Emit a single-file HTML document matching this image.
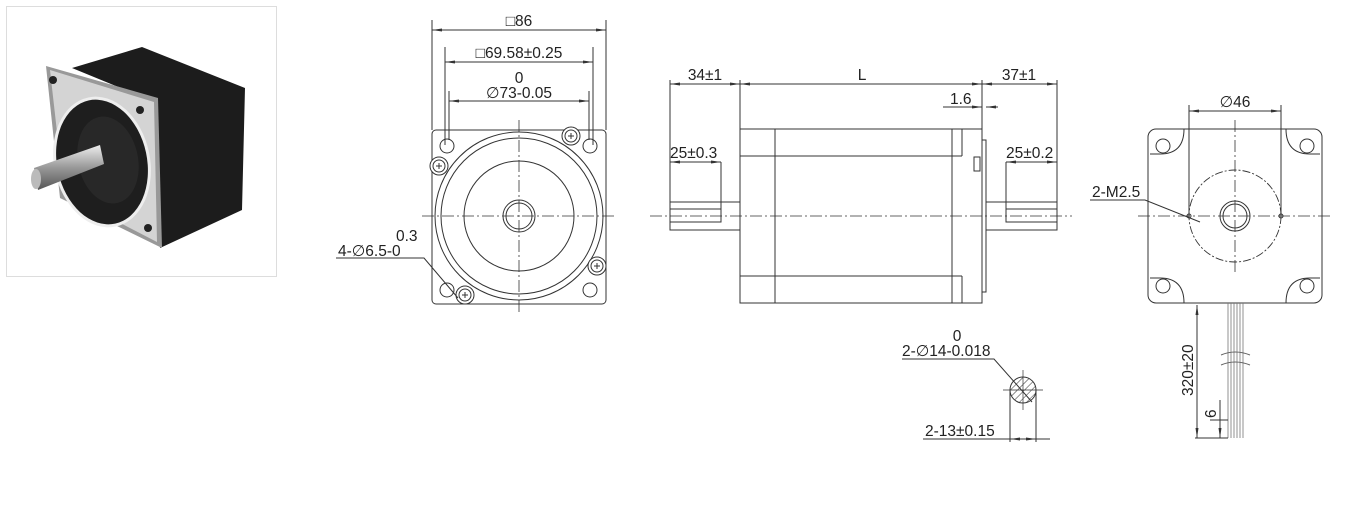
<!DOCTYPE html>
<html><head><meta charset="utf-8"><style>
html,body{margin:0;padding:0;background:#fff;width:1360px;height:508px;overflow:hidden}
svg{display:block}
text{font-family:"Liberation Sans",sans-serif;fill:#222;font-size:15.5px}
</style></head><body>
<svg width="1360" height="508" viewBox="0 0 1360 508" xmlns="http://www.w3.org/2000/svg">
<defs>
<marker id="a" viewBox="0 0 10 6" refX="10" refY="3" markerWidth="10" markerHeight="6" orient="auto-start-reverse"><path d="M0,1.5 L10,3 L0,4.5" fill="#333"/></marker>
<pattern id="h" width="5" height="5" patternUnits="userSpaceOnUse" patternTransform="rotate(45)"><line x1="0" y1="0" x2="0" y2="5" stroke="#333" stroke-width="1"/></pattern>
<linearGradient id="sh" x1="0" y1="0" x2="0" y2="1"><stop offset="0" stop-color="#eee"/><stop offset=".5" stop-color="#999"/><stop offset="1" stop-color="#555"/></linearGradient>
<g id="scr"><circle r="9" fill="#fff"/><circle r="6"/><line x1="-3" y1="0" x2="3" y2="0"/><line x1="0" y1="-3" x2="0" y2="3"/></g>
</defs>
<!-- photo -->
<rect x="6.5" y="6.5" width="270" height="270" fill="#fff" stroke="#ddd"/>
<polygon points="72,68 142,47 245,88 242,210 160,248 150,100" fill="#1c1c1c"/>
<polygon points="46,66 158,98 162,248 60,198" fill="#999"/>
<polygon points="50,70 154,102 157,242 64,194" fill="#d4d4d4"/>
<ellipse cx="102" cy="162" rx="48" ry="66" transform="rotate(-12 102 162)" fill="#eee"/>
<ellipse cx="102" cy="162" rx="45" ry="63" transform="rotate(-12 102 162)" fill="#1e1e1e"/>
<ellipse cx="108" cy="160" rx="30" ry="44" transform="rotate(-12 108 160)" fill="#282828"/>
<polygon points="34,168 100,145 104,164 38,190" fill="url(#sh)"/>
<ellipse cx="36" cy="179" rx="5" ry="10" fill="#bbb"/>
<circle cx="53" cy="80" r="4" fill="#222"/><circle cx="140" cy="110" r="4" fill="#222"/><circle cx="148" cy="228" r="4" fill="#222"/>
<g stroke="#333" stroke-width="1" fill="none">
<!-- front view -->
<rect x="432" y="130" width="174" height="174" rx="4"/>
<circle cx="519" cy="216" r="84"/><circle cx="519" cy="216" r="78"/><circle cx="519" cy="216" r="55"/>
<circle cx="519" cy="216" r="16"/><circle cx="519" cy="216" r="13"/>
<circle cx="447" cy="146" r="7"/><circle cx="590" cy="146" r="7"/><circle cx="447" cy="290" r="7"/><circle cx="590" cy="290" r="7"/>
<use href="#scr" x="571" y="136"/><use href="#scr" x="439" y="166"/><use href="#scr" x="597" y="266"/><use href="#scr" x="465" y="295"/>
<g stroke-dasharray="12,3,2,3" stroke-width=".8"><line x1="422" y1="216" x2="616" y2="216"/><line x1="519" y1="120" x2="519" y2="312"/></g>
<line x1="432" y1="20" x2="432" y2="130"/><line x1="606" y1="20" x2="606" y2="130"/>
<line x1="432" y1="30" x2="606" y2="30" marker-start="url(#a)" marker-end="url(#a)"/>
<line x1="445" y1="47" x2="445" y2="145"/><line x1="593" y1="47" x2="593" y2="145"/>
<line x1="445" y1="62" x2="593" y2="62" marker-start="url(#a)" marker-end="url(#a)"/>
<line x1="449" y1="91" x2="449" y2="140"/><line x1="589" y1="91" x2="589" y2="140"/>
<line x1="449" y1="101" x2="589" y2="101" marker-start="url(#a)" marker-end="url(#a)"/>
<polyline points="336,258 424,258 458,298"/>
<!-- side view -->
<rect x="740" y="129" width="242" height="174"/>
<line x1="775" y1="129" x2="775" y2="303"/><line x1="952" y1="129" x2="952" y2="303"/><line x1="962" y1="129" x2="962" y2="156"/><line x1="962" y1="276" x2="962" y2="303"/>
<line x1="740" y1="156" x2="962" y2="156"/><line x1="740" y1="276" x2="962" y2="276"/>
<rect x="982" y="140" width="4" height="152"/>
<rect x="974" y="157" width="6" height="14"/>
<rect x="670" y="202" width="70" height="28"/><rect x="670" y="209" width="51" height="13"/>
<rect x="986" y="202" width="71" height="28"/><rect x="1006" y="209" width="51" height="13"/>
<line x1="650" y1="216" x2="1072" y2="216" stroke-dasharray="12,3,2,3" stroke-width=".8"/>
<line x1="670" y1="80" x2="670" y2="202"/><line x1="740" y1="80" x2="740" y2="129"/><line x1="982" y1="80" x2="982" y2="140"/><line x1="1057" y1="80" x2="1057" y2="202"/>
<line x1="670" y1="84" x2="740" y2="84" marker-start="url(#a)" marker-end="url(#a)"/>
<line x1="740" y1="84" x2="982" y2="84" marker-start="url(#a)" marker-end="url(#a)"/>
<line x1="982" y1="84" x2="1057" y2="84" marker-start="url(#a)" marker-end="url(#a)"/>
<line x1="943" y1="107" x2="982" y2="107" marker-end="url(#a)"/><line x1="998" y1="107" x2="986" y2="107" marker-end="url(#a)"/>
<line x1="670" y1="162" x2="721" y2="162" marker-start="url(#a)" marker-end="url(#a)"/><line x1="721" y1="162" x2="721" y2="209"/>
<line x1="1006" y1="162" x2="1057" y2="162" marker-start="url(#a)" marker-end="url(#a)"/><line x1="1006" y1="162" x2="1006" y2="209"/>
<!-- section -->
<circle cx="1023" cy="390" r="13" fill="url(#h)"/>
<line x1="1023" y1="370" x2="1023" y2="410" stroke-width=".7"/><line x1="1003" y1="390" x2="1043" y2="390" stroke-width=".7"/>
<polyline points="902,359 994,359 1032,402"/>
<line x1="1010" y1="390" x2="1010" y2="442"/><line x1="1036" y1="390" x2="1036" y2="442"/>
<line x1="923" y1="439" x2="1010" y2="439"/><line x1="1010" y1="439" x2="1036" y2="439" marker-start="url(#a)" marker-end="url(#a)"/><line x1="1036" y1="439" x2="1050" y2="439"/>
<!-- right view -->
<rect x="1148" y="129" width="174" height="174" rx="8"/>
<path d="M1184,129 Q1184,154 1160,154 H1150 M1286,129 Q1286,154 1310,154 H1320 M1184,303 Q1184,278 1160,278 H1150 M1286,303 Q1286,278 1310,278 H1320"/>
<circle cx="1163" cy="146" r="7"/><circle cx="1307" cy="146" r="7"/><circle cx="1163" cy="286" r="7"/><circle cx="1307" cy="286" r="7"/>
<circle cx="1235" cy="216" r="46" stroke-dasharray="8,2,2,2" stroke-width=".9"/>
<circle cx="1235" cy="216" r="15"/><circle cx="1235" cy="216" r="12"/>
<circle cx="1189" cy="216" r="2"/><circle cx="1281" cy="216" r="2"/>
<g stroke-dasharray="12,3,2,3" stroke-width=".8"><line x1="1138" y1="216" x2="1332" y2="216"/><line x1="1235" y1="120" x2="1235" y2="275"/></g>
<line x1="1189" y1="105" x2="1189" y2="216"/><line x1="1281" y1="105" x2="1281" y2="216"/>
<line x1="1189" y1="111" x2="1281" y2="111" marker-start="url(#a)" marker-end="url(#a)"/>
<polyline points="1090,200 1145,200 1200,222"/>
<g stroke="#777" stroke-width=".8"><line x1="1228" y1="303" x2="1228" y2="438"/><line x1="1231" y1="303" x2="1231" y2="438"/><line x1="1234" y1="303" x2="1234" y2="438"/><line x1="1237" y1="303" x2="1237" y2="438"/><line x1="1240" y1="303" x2="1240" y2="438"/><line x1="1243" y1="303" x2="1243" y2="438"/></g>
<path d="M1221,355 Q1235,349 1250,355 M1221,365 Q1235,359 1250,365" stroke="#666"/>
<line x1="1197" y1="305" x2="1197" y2="438" marker-start="url(#a)" marker-end="url(#a)"/>
<line x1="1195" y1="438" x2="1228" y2="438"/>
<line x1="1210" y1="420" x2="1228" y2="420"/>
<line x1="1220" y1="400" x2="1220" y2="438" marker-end="url(#a)"/>
</g>
<g>
<text x="519" y="26" text-anchor="middle">□86</text>
<text x="519" y="58" text-anchor="middle">□69.58±0.25</text>
<text x="519" y="83" text-anchor="middle">0</text>
<text x="519" y="98" text-anchor="middle">∅73-0.05</text>
<text x="396" y="241">0.3</text>
<text x="338" y="256">4-∅6.5-0</text>
<text x="705" y="80" text-anchor="middle">34±1</text>
<text x="862" y="80" text-anchor="middle">L</text>
<text x="1019" y="80" text-anchor="middle">37±1</text>
<text x="950" y="104">1.6</text>
<text x="670" y="158">25±0.3</text>
<text x="1006" y="158">25±0.2</text>
<text x="957" y="341" text-anchor="middle">0</text>
<text x="902" y="356">2-∅14-0.018</text>
<text x="925" y="436">2-13±0.15</text>
<text x="1235" y="107" text-anchor="middle">∅46</text>
<text x="1092" y="197">2-M2.5</text>
<text transform="translate(1193,396) rotate(-90)">320±20</text>
<text transform="translate(1216,418) rotate(-90)">6</text>
</g>
</svg>
</body></html>
